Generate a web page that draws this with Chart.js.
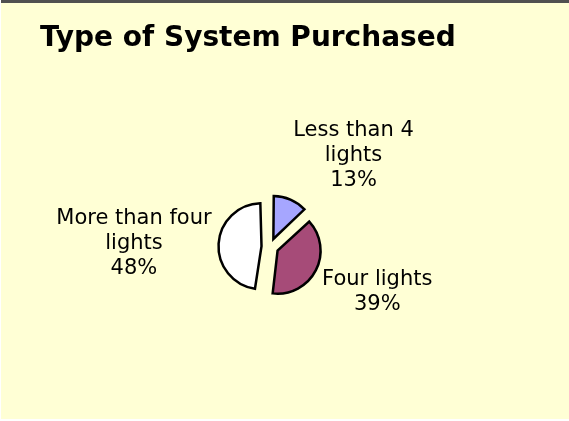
<!DOCTYPE html>
<html>
<head>
<meta charset="utf-8">
<script src="https://cdn.jsdelivr.net/npm/chart.js@4"></script>
<style>
  html, body { margin: 0; padding: 0; background: #ffffff; }
  #frame {
    position: absolute; left: 1px; top: 0; width: 568px; height: 419px;
    background: #ffffd5; border-top: 3px solid #505050; box-sizing: border-box;
  }
  #wrap { position: absolute; left: 0; top: 0; width: 569px; height: 421px; }
</style>
</head>
<body>
<div id="frame"></div>
<div id="wrap"><canvas id="chart" width="569" height="421"></canvas></div>
<script>
const categories = [["Less than 4", "lights"], ["Four lights"], ["More than four", "lights"]];
const shares = [13, 39, 48];
const sliceColors = ["#a6a6ff", "#a64b78", "#ffffff"];

const explode = 34;

// Chart.js grows exploded slices a bit; pull the radius back so all slices match
const evenRadius = {
  id: "evenRadius",
  beforeDatasetsDraw(chart) {
    const meta = chart.getDatasetMeta(0);
    meta.data.forEach(arc => {
      if (arc._baseR === undefined) arc._baseR = arc.outerRadius;
      const circ = arc.endAngle - arc.startAngle;
      const fix = 1 - Math.sin(Math.min(Math.PI, circ));
      arc.outerRadius = arc._baseR - (explode / 4) * fix;
    });
  }
};

const outerLabels = {
  id: "outerLabels",
  afterDatasetsDraw(chart) {
    const ctx = chart.ctx;
    const meta = chart.getDatasetMeta(0);
    const lineH = 25;
    ctx.save();
    ctx.font = "21px 'DejaVu Sans', Verdana, sans-serif";
    ctx.fillStyle = "#000000";
    ctx.textAlign = "center";
    ctx.textBaseline = "middle";
    meta.data.forEach((arc, i) => {
      const mid = (arc.startAngle + arc.endAngle) / 2;
      const dist = arc._baseR + explode / 4 + 7;
      const ax = arc.x + Math.cos(mid) * dist;
      const ay = arc.y + Math.sin(mid) * dist;
      const lines = categories[i].concat([shares[i] + "%"]);
      const w = Math.max(...lines.map(t => ctx.measureText(t).width));
      const h = lines.length * lineH;
      const fx = Math.max(-1, Math.min(1, Math.cos(mid) * 3));
      const fy = Math.max(-1, Math.min(1, Math.pow(Math.sin(mid), 3) * 8));
      const left = ax - w / 2 + fx * w / 2;
      const top = ay - h / 2 + fy * h / 2;
      lines.forEach((t, k) => {
        ctx.fillText(t, left + w / 2, top + lineH * k + lineH / 2);
      });
    });
    ctx.restore();
  }
};

new Chart(document.getElementById("chart"), {
  type: "pie",
  data: {
    labels: categories.map(c => c.join(" ")),
    datasets: [{
      data: shares,
      backgroundColor: sliceColors,
      borderColor: "#000000",
      borderWidth: 2.5,
      borderJoinStyle: "miter",
      offset: explode
    }]
  },
  options: {
    responsive: false,
    animation: false,
    radius: 43,
    layout: { padding: { left: 40, right: 69, top: 4, bottom: 10 } },
    plugins: {
      legend: { display: false },
      tooltip: { enabled: false },
      title: {
        display: true,
        text: "Type of System Purchased",
        align: "start",
        color: "#000000",
        font: { family: "'DejaVu Sans', Verdana, sans-serif", size: 28, weight: "bold" },
        padding: { top: 18, bottom: 27 }
      }
    }
  },
  plugins: [evenRadius, outerLabels]
});
</script>
</body>
</html>
